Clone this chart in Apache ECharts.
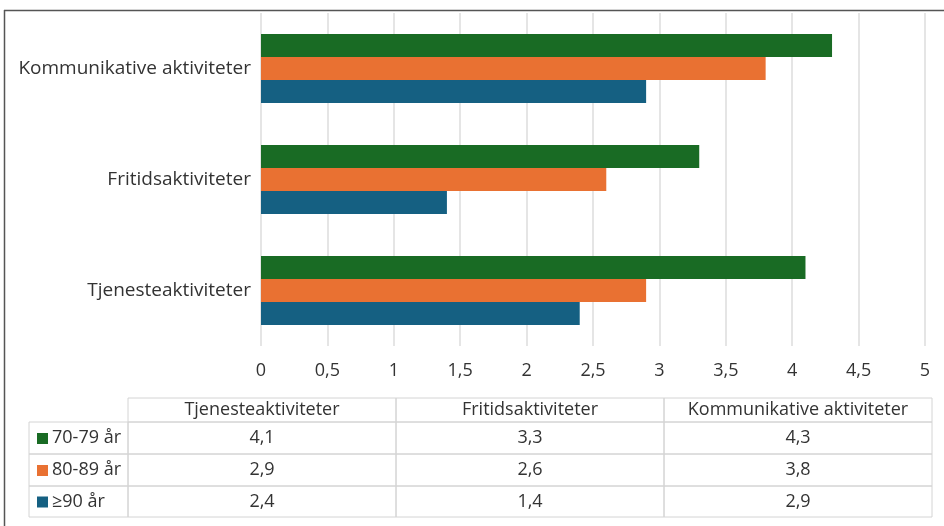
<!DOCTYPE html>
<html lang="no">
<head>
    <meta charset="UTF-8">
    <script src="https://cdn.jsdelivr.net/npm/echarts@6/dist/echarts.min.js"></script>
    <title>Aktiviteter</title>
    <style>
        html, body { margin: 0; padding: 0; background: #fff; }
        #chart { width: 944px; height: 526px; }
    </style>
</head>
<body>
    <div id="chart"></div>
    <script>
var categories = ['Tjenesteaktiviteter', 'Fritidsaktiviteter', 'Kommunikative aktiviteter'];
var seriesNames = ['70-79 år', '80-89 år', '≥90 år'];
var colors = ['#196B24', '#E97132', '#156082'];
var age7079 = [4.1, 3.3, 4.3];
var age8089 = [2.9, 2.6, 3.8];
var age90 = [2.4, 1.4, 2.9];
var xTicks = [0, 0.5, 1, 1.5, 2, 2.5, 3, 3.5, 4, 4.5, 5];

var values = [age7079, age8089, age90];
var font = '"Open Sans"';
var fontSize = 18;
var textColor = '#333333';

function comma(v) {
  return String(v).replace('.', ',');
}

var myCharts = echarts.init(document.getElementById('chart'));

var series = [];
for (var i = 0; i < seriesNames.length; i++) {
  series.push({
    name: seriesNames[i],
    type: 'bar',
    data: values[i],
    barGap: '0%',
    barCategoryGap: '38%',
    itemStyle: { color: colors[i] }
  });
}

// data table under the chart
var tableLeft = 29, colStart = 128, colW = 268;
var rowTops = [398, 422, 454, 486, 517];
var borderColor = '#d4d4d4';
var cellFont = fontSize + 'px ' + font;
var table = [];
for (var c = 0; c < categories.length; c++) {
  table.push({
    type: 'rect',
    shape: { x: colStart + c * colW, y: rowTops[0], width: colW, height: rowTops[1] - rowTops[0] },
    style: { fill: 'none', stroke: borderColor, lineWidth: 1 }
  });
  table.push({
    type: 'text',
    x: colStart + c * colW + colW / 2,
    y: (rowTops[0] + rowTops[1]) / 2,
    style: { text: categories[c], font: cellFont, fill: textColor, align: 'center', verticalAlign: 'middle' }
  });
}
for (var r = 0; r < seriesNames.length; r++) {
  var rowY = rowTops[r + 1], rowH = rowTops[r + 2] - rowY;
  table.push({
    type: 'rect',
    shape: { x: tableLeft, y: rowY, width: colStart - tableLeft, height: rowH },
    style: { fill: 'none', stroke: borderColor, lineWidth: 1 }
  });
  table.push({
    type: 'rect',
    shape: { x: tableLeft + 8, y: rowY + rowH / 2 - 5, width: 11, height: 11 },
    style: { fill: colors[r] }
  });
  table.push({
    type: 'text',
    x: tableLeft + 23,
    y: rowY + rowH / 2,
    style: { text: seriesNames[r], font: cellFont, fill: textColor, align: 'left', verticalAlign: 'middle' }
  });
  for (var c2 = 0; c2 < categories.length; c2++) {
    table.push({
      type: 'rect',
      shape: { x: colStart + c2 * colW, y: rowY, width: colW, height: rowH },
      style: { fill: 'none', stroke: borderColor, lineWidth: 1 }
    });
    table.push({
      type: 'text',
      x: colStart + c2 * colW + colW / 2,
      y: rowY + rowH / 2,
      style: { text: comma(values[r][c2]), font: cellFont, fill: textColor, align: 'center', verticalAlign: 'middle' }
    });
  }
}

// frame (top and left edge of the cropped screenshot)
table.push({ type: 'line', shape: { x1: 4, y1: 10.5, x2: 944, y2: 10.5 }, style: { stroke: '#555', lineWidth: 1.5 } });
table.push({ type: 'line', shape: { x1: 4.5, y1: 10, x2: 4.5, y2: 526 }, style: { stroke: '#555', lineWidth: 1.5 } });

option = {
  backgroundColor: '#fff',
  animation: false,
  textStyle: { fontFamily: font },
  grid: { left: 261, right: 19, top: 13, height: 333, containLabel: false },
  xAxis: {
    type: 'value',
    min: xTicks[0],
    max: xTicks[xTicks.length - 1],
    interval: 0.5,
    axisLine: { show: false },
    axisTick: { show: false },
    splitLine: { lineStyle: { color: '#dcdcdc', width: 1.5 } },
    axisLabel: { color: textColor, fontSize: fontSize, margin: 16, formatter: function (v) { return comma(v); } }
  },
  yAxis: {
    type: 'category',
    data: categories,
    axisLine: { show: false },
    axisTick: { show: false },
    axisLabel: { color: textColor, fontSize: 19, margin: 10 }
  },
  series: series,
  graphic: table
};
myCharts.setOption(option);
    </script>
</body>
</html>
